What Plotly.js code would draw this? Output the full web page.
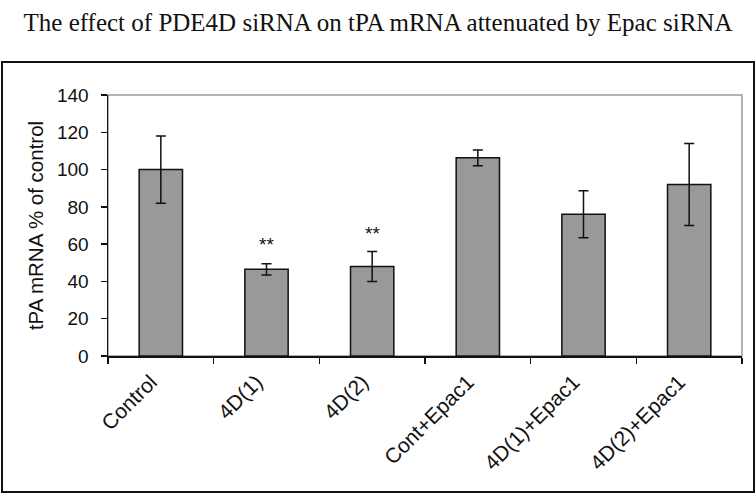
<!DOCTYPE html>
<html>
<head>
<meta charset="utf-8">
<script src="https://cdn.plot.ly/plotly-3.0.1.min.js"></script>
<style>
  html, body { margin: 0; padding: 0; background: #fff; }
  #wrap { position: relative; width: 756px; height: 493px; }
  #chart { width: 756px; height: 493px; }
  #frame { position: absolute; left: 1px; top: 61px; width: 750px; height: 428px;
           border: 2px solid #111; pointer-events: none; }
</style>
</head>
<body>
<div id="wrap">
  <div id="chart"></div>
  <div id="frame"></div>
</div>
<script>
const categories = ['Control', '4D(1)', '4D(2)', 'Cont+Epac1', '4D(1)+Epac1', '4D(2)+Epac1'];
const values = [100, 46.5, 48, 106.3, 76, 92];
const errors = [18, 3, 8, 4.2, 12.6, 22];
const sigLabels = ['', '**', '**', '', '', ''];
const sigY = [0, 60, 65.5, 0, 0, 0];

const trace = {
  type: 'bar',
  x: categories,
  y: values,
  marker: { color: '#999999', line: { color: '#111111', width: 1.5 } },
  error_y: { type: 'data', array: errors, visible: true, color: '#111111', thickness: 1.5, width: 5 },
  hoverinfo: 'none'
};

const annotations = [];
categories.forEach((c, i) => {
  if (sigLabels[i]) {
    annotations.push({ x: c, y: sigY[i], xref: 'x', yref: 'y', text: sigLabels[i], showarrow: false,
      font: { family: 'Liberation Sans, Arial, sans-serif', size: 19, color: '#111' } });
  }
});

const layout = {
  width: 756, height: 493,
  margin: { l: 108, r: 14, t: 95, b: 137 },
  paper_bgcolor: '#ffffff', plot_bgcolor: '#ffffff',
  bargap: 0.59,
  showlegend: false,
  title: {
    text: 'The effect of PDE4D siRNA on tPA mRNA attenuated by Epac siRNA',
    font: { family: 'Liberation Serif, Times New Roman, serif', size: 25, color: '#111' },
    x: 0.5, xanchor: 'center', xref: 'container',
    y: 0.955, yref: 'container', yanchor: 'middle'
  },
  xaxis: {
    type: 'category',
    tickangle: -45,
    ticks: 'outside', ticklen: 6, tickcolor: '#111', tickwidth: 1.5,
    tickson: 'boundaries',
    ticklabelshift: -10,
    ticklabelstandoff: 4,
    showline: true, linecolor: '#111', linewidth: 1.5,
    showgrid: false, zeroline: false,
    tickfont: { family: 'Liberation Sans, Arial, sans-serif', size: 21, color: '#111' }
  },
  yaxis: {
    range: [0, 140], dtick: 20,
    ticks: 'outside', ticklen: 6, tickcolor: '#111', tickwidth: 1.5,
    showline: true, linecolor: '#111', linewidth: 1.5,
    showgrid: false, zeroline: false,
    ticklabelstandoff: 8,
    tickfont: { family: 'Liberation Sans, Arial, sans-serif', size: 19, color: '#111' },
    title: { text: 'tPA mRNA % of control', standoff: 8,
      font: { family: 'Liberation Sans, Arial, sans-serif', size: 20.5, color: '#111' } }
  },
  shapes: [
    { type: 'rect', xref: 'paper', yref: 'paper', x0: 0, x1: 1, y0: 0, y1: 1,
      line: { color: '#999999', width: 1.5 }, layer: 'below' }
  ],
  annotations: annotations
};

Plotly.newPlot('chart', [trace], layout, { displayModeBar: false, staticPlot: true });
</script>
</body>
</html>
